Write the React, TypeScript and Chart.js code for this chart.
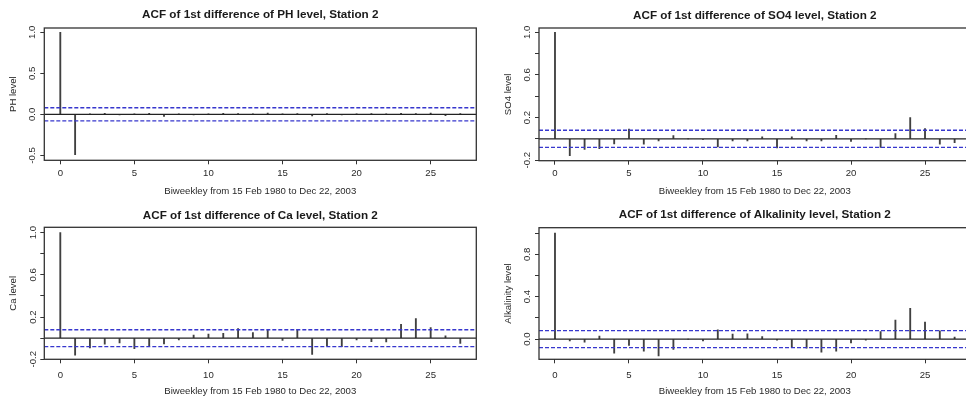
import React, { useEffect, useRef } from "react";
import { Chart, registerables } from "chart.js";

Chart.register(...registerables);

// ---------- data ----------
const lags = [0, 1, 2, 3, 4, 5, 6, 7, 8, 9, 10, 11, 12, 13, 14, 15, 16, 17, 18, 19, 20, 21, 22, 23, 24, 25, 26, 27];

const phAcf = [1, -0.49, 0.005, 0.012, -0.005, 0.006, 0.012, -0.025, 0.005, -0.005, 0.006, 0.012, 0.008, 0.005, 0.016, 0.006, 0.01, -0.02, 0.01, -0.005, 0.005, 0.01, 0.006, 0.012, 0.008, 0.016, -0.015, 0.01];
const so4Acf = [1, -0.158, -0.098, -0.092, -0.047, 0.091, -0.05, -0.02, 0.03, 0.0, -0.005, -0.076, -0.02, -0.02, 0.02, -0.085, 0.02, -0.02, -0.02, 0.033, -0.025, 0.0, -0.08, 0.05, 0.2, 0.097, -0.05, -0.035];
const caAcf = [1, -0.162, -0.092, -0.057, -0.045, -0.099, -0.073, -0.054, -0.016, 0.029, 0.038, 0.045, 0.09, 0.052, 0.074, -0.022, 0.083, -0.154, -0.073, -0.08, -0.016, -0.032, -0.035, 0.132, 0.186, 0.1, 0.022, -0.05];
const alkAcf = [1, -0.016, -0.028, 0.028, -0.132, -0.06, -0.113, -0.157, -0.097, 0.0, -0.016, 0.088, 0.047, 0.05, 0.025, -0.01, -0.079, -0.085, -0.123, -0.113, -0.035, -0.01, 0.072, 0.18, 0.29, 0.16, 0.079, 0.019];

const ciBound = 0.08;

const xRange = [-1.08, 28.08];
const xTickValues = [0, 5, 10, 15, 20, 25];
const xTickLabels = ["0", "5", "10", "15", "20", "25"];
const xAxisTitle = "Biweekley from 15 Feb 1980 to Dec 22, 2003";

const phYRange = [-0.56, 1.052];
const phYTicks = [-0.5, 0, 0.5, 1.0];
const phYTickLabels = ["-0.5", "0.0", "0.5", "1.0"];

const so4YRange = [-0.205, 1.04];
const so4YTicks = [-0.2, 0, 0.2, 0.4, 0.6, 0.8, 1.0];
const so4YTickLabels = ["-0.2", "", "0.2", "", "0.6", "", "1.0"];

const caYRange = [-0.2, 1.05];
const caYTicks = [-0.2, 0, 0.2, 0.4, 0.6, 0.8, 1.0];
const caYTickLabels = ["-0.2", "", "0.2", "", "0.6", "", "1.0"];

const alkYRange = [-0.19, 1.05];
const alkYTicks = [0, 0.2, 0.4, 0.6, 0.8, 1.0];
const alkYTickLabels = ["0.0", "", "0.4", "", "0.8", ""];

const titles = [
  "ACF of 1st difference of PH level, Station 2",
  "ACF of 1st difference of SO4 level, Station 2",
  "ACF of 1st difference of Ca level, Station 2",
  "ACF of 1st difference of Alkalinity level, Station 2",
];
const yLabels = ["PH level", "SO4 level", "Ca level", "Alkalinity level"];

// ---------- styles / geometry ----------
const FONT = "'Liberation Sans', Arial, sans-serif";
const AXIS_FS = 9.6;
const TITLE_FS = 11.7;
const TEXT_COLOR = "#2a2a2a";
const AXIS_COLOR = "#333333";
const SPIKE_COLOR = "#404040";
const CI_COLOR = "rgb(55,55,205)";
const TICK_LEN = 4;

type Geom = {
  left: number; top: number; w: number; h: number;
  chartLeft: number; chartRight: number; chartTop: number; chartBottom: number;
  titleY: number; yTitleX: number; yTickX: number; xTickY: number; xTitleY: number;
};

const geoms: Geom[] = [
  { left: 0, top: 0, w: 483, h: 199, chartLeft: 44.3, chartRight: 476.3, chartTop: 28, chartBottom: 160.3, titleY: 15.2, yTitleX: 13.3, yTickX: 32.3, xTickY: 173.2, xTitleY: 191.7 },
  { left: 483, top: 0, w: 496, h: 199, chartLeft: 56, chartRight: 487.6, chartTop: 28, chartBottom: 160.7, titleY: 15.5, yTitleX: 25, yTickX: 44, xTickY: 173.3, xTitleY: 191.7 },
  { left: 0, top: 199, w: 483, h: 198, chartLeft: 44.3, chartRight: 476.3, chartTop: 28.3, chartBottom: 160.3, titleY: 16.7, yTitleX: 13.3, yTickX: 33.3, xTickY: 176, xTitleY: 192 },
  { left: 483, top: 199, w: 496, h: 198, chartLeft: 56, chartRight: 487.6, chartTop: 28.7, chartBottom: 160.3, titleY: 15.3, yTitleX: 25, yTickX: 44, xTickY: 176, xTitleY: 192.7 },
];

type PanelCfg = {
  values: number[];
  title: string;
  yLabel: string;
  yRange: number[];
  yTicks: number[];
  yTickLabels: string[];
  geom: Geom;
};

const panels: PanelCfg[] = [
  { values: phAcf, title: titles[0], yLabel: yLabels[0], yRange: phYRange, yTicks: phYTicks, yTickLabels: phYTickLabels, geom: geoms[0] },
  { values: so4Acf, title: titles[1], yLabel: yLabels[1], yRange: so4YRange, yTicks: so4YTicks, yTickLabels: so4YTickLabels, geom: geoms[1] },
  { values: caAcf, title: titles[2], yLabel: yLabels[2], yRange: caYRange, yTicks: caYTicks, yTickLabels: caYTickLabels, geom: geoms[2] },
  { values: alkAcf, title: titles[3], yLabel: yLabels[3], yRange: alkYRange, yTicks: alkYTicks, yTickLabels: alkYTickLabels, geom: geoms[3] },
];

function AcfPanel({ cfg }: { cfg: PanelCfg }) {
  const ref = useRef<HTMLCanvasElement>(null);
  const g = cfg.geom;

  useEffect(() => {
    if (!ref.current) return;

    const frame = {
      id: "rFrame",
      afterDatasetsDraw(chart: any) {
        const { ctx, chartArea: a } = chart;
        ctx.save();
        ctx.strokeStyle = AXIS_COLOR;
        ctx.lineWidth = 1.3;
        ctx.strokeRect(a.left, a.top, a.right - a.left, a.bottom - a.top);
        const ys = chart.scales.y;
        ctx.fillStyle = TEXT_COLOR;
        ctx.font = `${AXIS_FS}px ${FONT}`;
        ctx.textAlign = "center";
        ctx.textBaseline = "middle";
        cfg.yTicks.forEach((v, i) => {
          const label = cfg.yTickLabels[i];
          if (!label) return;
          const py = ys.getPixelForValue(v);
          ctx.save();
          ctx.translate(g.yTickX, py);
          ctx.rotate(-Math.PI / 2);
          ctx.fillText(label, 0, 0);
          ctx.restore();
        });
        ctx.restore();
      },
    };

    const hLine = (yv: number) => [
      { x: xRange[0], y: yv },
      { x: xRange[1], y: yv },
    ];

    const chart = new Chart(ref.current, {
      type: "bar",
      data: {
        datasets: [
          { type: "line", data: hLine(ciBound), borderColor: CI_COLOR, borderWidth: 1.4, borderDash: [4, 2], pointRadius: 0 } as any,
          { type: "line", data: hLine(-ciBound), borderColor: CI_COLOR, borderWidth: 1.4, borderDash: [4, 2], pointRadius: 0 } as any,
          { type: "line", data: hLine(0), borderColor: "#222222", borderWidth: 1.3, pointRadius: 0 } as any,
          {
            type: "bar",
            data: lags.map((l, i) => ({ x: l, y: cfg.values[i] })),
            backgroundColor: SPIKE_COLOR,
            barThickness: 1.2,
            borderWidth: 0,
          } as any,
        ],
      },
      options: {
        responsive: false,
        animation: false,
        events: [],
        layout: { padding: { left: 0, top: 0, bottom: 0, right: g.w - g.chartRight } },
        plugins: {
          legend: { display: false },
          tooltip: { enabled: false },
          title: {
            display: true,
            text: cfg.title,
            fullSize: false,
            color: "#1a1a1a",
            font: { family: FONT, size: TITLE_FS, weight: "bold", lineHeight: 1 },
            padding: { top: g.titleY - TITLE_FS / 2, bottom: g.chartTop - g.titleY - TITLE_FS / 2 },
          },
        },
        scales: {
          x: {
            type: "linear",
            min: xRange[0],
            max: xRange[1],
            offset: false,
            afterBuildTicks: (s: any) => {
              s.ticks = xTickValues.map((v) => ({ value: v }));
            },
            afterFit: (s: any) => {
              s.height = g.h - g.chartBottom;
            },
            ticks: {
              callback: (_v: any, i: number) => xTickLabels[i],
              font: { family: FONT, size: AXIS_FS, lineHeight: 1 },
              color: TEXT_COLOR,
              padding: g.xTickY - g.chartBottom - TICK_LEN - AXIS_FS / 2,
              maxRotation: 0,
              minRotation: 0,
              autoSkip: false,
            },
            grid: { drawOnChartArea: false, drawTicks: true, tickLength: TICK_LEN, color: AXIS_COLOR, lineWidth: 1, offset: false },
            border: { display: false },
            title: {
              display: true,
              text: xAxisTitle,
              color: TEXT_COLOR,
              font: { family: FONT, size: AXIS_FS, lineHeight: 1 },
              padding: { top: 0, bottom: g.h - AXIS_FS / 2 - g.xTitleY },
            },
          },
          y: {
            type: "linear",
            min: cfg.yRange[0],
            max: cfg.yRange[1],
            afterBuildTicks: (s: any) => {
              s.ticks = cfg.yTicks.map((v) => ({ value: v }));
            },
            afterFit: (s: any) => {
              s.width = g.chartLeft;
            },
            ticks: { display: false },
            grid: { drawOnChartArea: false, drawTicks: true, tickLength: TICK_LEN, color: AXIS_COLOR, lineWidth: 1 },
            border: { display: false },
            title: {
              display: true,
              text: cfg.yLabel,
              color: TEXT_COLOR,
              font: { family: FONT, size: AXIS_FS, lineHeight: 1 },
              padding: { top: g.yTitleX - AXIS_FS / 2, bottom: 0 },
            },
          },
        },
      } as any,
      plugins: [frame],
    });

    return () => chart.destroy();
  }, [cfg]);

  return (
    <canvas
      ref={ref}
      width={g.w}
      height={g.h}
      style={{ position: "absolute", left: g.left, top: g.top, width: g.w, height: g.h }}
    />
  );
}

export default function App() {
  return (
    <div
      style={{
        position: "absolute",
        left: 0,
        top: 0,
        width: 966,
        height: 397,
        overflow: "hidden",
        background: "#ffffff",
      }}
    >
      {panels.map((p, i) => (
        <AcfPanel key={i} cfg={p} />
      ))}
    </div>
  );
}
